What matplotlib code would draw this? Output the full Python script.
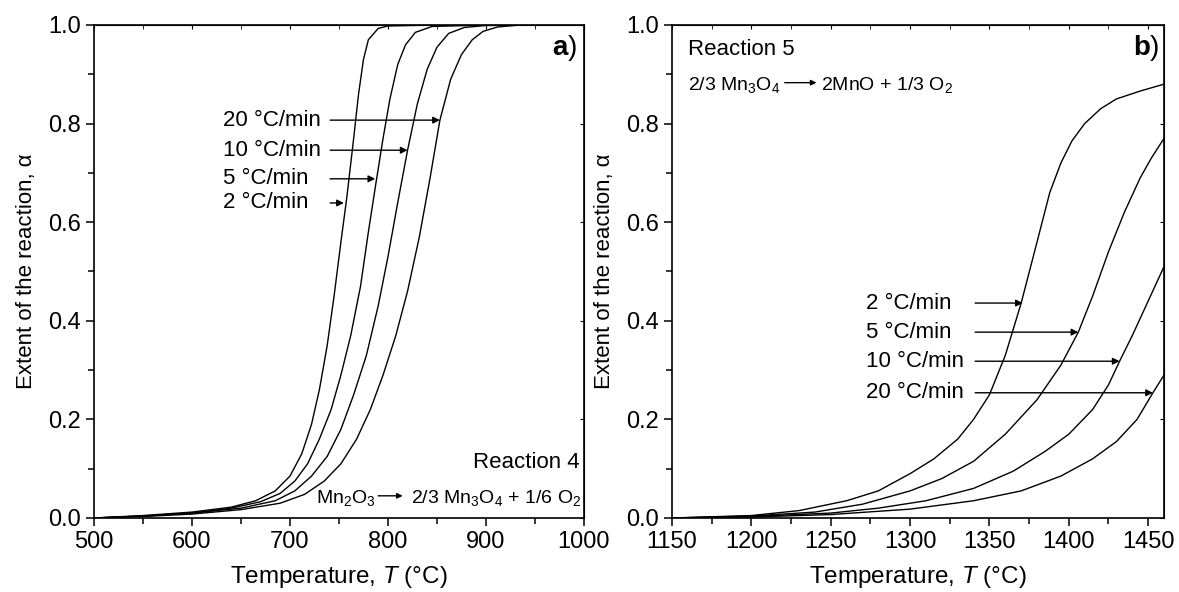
import matplotlib
matplotlib.use("Agg")
import matplotlib.pyplot as plt
from matplotlib.ticker import MultipleLocator

plt.rcParams["font.family"] = ["Liberation Sans", "DejaVu Sans"]
plt.rcParams["mathtext.fontset"] = "custom"
plt.rcParams["mathtext.rm"] = "Liberation Sans"
plt.rcParams["mathtext.it"] = "Liberation Sans:italic"
plt.rcParams["mathtext.bf"] = "Liberation Sans:bold"

# Reaction 4 (panel a): temperature (°C) and extent of reaction
rates = ["2 °C/min", "5 °C/min", "10 °C/min", "20 °C/min"]

T4_2 = [500, 550, 600, 640, 665, 685, 700, 712, 722, 730, 738, 745, 752, 758, 765, 770, 775, 780, 790, 800, 850, 1000]
a4_2 = [0, 0.005, 0.012, 0.022, 0.035, 0.055, 0.085, 0.13, 0.19, 0.26, 0.35, 0.45, 0.56, 0.65, 0.77, 0.86, 0.93, 0.97, 0.993, 0.998, 1.0, 1.0]
T4_5 = [500, 550, 600, 640, 670, 690, 705, 718, 730, 742, 752, 762, 772, 780, 787, 795, 802, 810, 818, 828, 845, 900, 1000]
a4_5 = [0, 0.004, 0.01, 0.02, 0.033, 0.05, 0.075, 0.11, 0.16, 0.22, 0.29, 0.37, 0.47, 0.58, 0.67, 0.77, 0.85, 0.92, 0.96, 0.985, 0.997, 1.0, 1.0]
T4_10 = [500, 550, 600, 650, 685, 705, 722, 738, 752, 765, 778, 790, 800, 810, 820, 830, 840, 850, 862, 878, 900, 1000]
a4_10 = [0, 0.004, 0.01, 0.02, 0.035, 0.055, 0.085, 0.125, 0.18, 0.25, 0.33, 0.43, 0.53, 0.64, 0.746, 0.84, 0.91, 0.955, 0.983, 0.995, 0.999, 1.0]
T4_20 = [500, 550, 600, 650, 690, 715, 735, 752, 768, 782, 795, 808, 820, 832, 843, 853, 864, 875, 886, 897, 912, 935, 1000]
a4_20 = [0, 0.003, 0.008, 0.017, 0.03, 0.048, 0.075, 0.11, 0.16, 0.22, 0.29, 0.37, 0.46, 0.57, 0.69, 0.807, 0.89, 0.94, 0.97, 0.987, 0.996, 1.0, 1.0]

# Reaction 5 (panel b)
T5_2 = [1150, 1200, 1230, 1260, 1280, 1300, 1315, 1330, 1340, 1350, 1360, 1370, 1380, 1388, 1395, 1402, 1410, 1420, 1430, 1445, 1460]
a5_2 = [0, 0.005, 0.015, 0.035, 0.055, 0.09, 0.12, 0.16, 0.2, 0.25, 0.33, 0.436, 0.56, 0.66, 0.72, 0.765, 0.8, 0.83, 0.85, 0.866, 0.88]
T5_5 = [1150, 1200, 1240, 1270, 1300, 1320, 1340, 1360, 1380, 1395, 1406, 1415, 1425, 1435, 1445, 1452, 1460]
a5_5 = [0, 0.004, 0.012, 0.028, 0.055, 0.08, 0.115, 0.17, 0.24, 0.31, 0.377, 0.45, 0.54, 0.62, 0.69, 0.73, 0.77]
T5_10 = [1150, 1200, 1250, 1280, 1310, 1340, 1365, 1385, 1400, 1415, 1425, 1432, 1440, 1450, 1460]
a5_10 = [0, 0.003, 0.01, 0.02, 0.035, 0.06, 0.095, 0.135, 0.17, 0.22, 0.27, 0.318, 0.37, 0.44, 0.51]
T5_20 = [1150, 1200, 1250, 1300, 1340, 1370, 1395, 1415, 1430, 1443, 1453, 1460]
a5_20 = [0, 0.002, 0.007, 0.018, 0.035, 0.055, 0.085, 0.12, 0.155, 0.2, 0.254, 0.29]

# arrow targets (temperature, alpha) for the labels
arr4 = [(755, 0.639), (787, 0.688), (820, 0.746), (853, 0.807)]
arr5 = [(1371, 0.436), (1406, 0.377), (1432, 0.318), (1453, 0.254)]

fig = plt.figure(figsize=(11.79, 5.92), dpi=100)
ax1 = fig.add_axes([0.0797, 0.125, 0.4156, 0.8328])
ax2 = fig.add_axes([0.570, 0.125, 0.4173, 0.8328])

for T, a in [(T4_2, a4_2), (T4_5, a4_5), (T4_10, a4_10), (T4_20, a4_20)]:
    ax1.plot(T, a, color="black", lw=1.0)
for T, a in [(T5_2, a5_2), (T5_5, a5_5), (T5_10, a5_10), (T5_20, a5_20)]:
    ax2.plot(T, a, color="black", lw=1.0)

ax1.set_xlim(500, 1000)
ax2.set_xlim(1150, 1460)
ax1.xaxis.set_major_locator(MultipleLocator(100))
ax1.xaxis.set_minor_locator(MultipleLocator(50))
ax2.xaxis.set_major_locator(MultipleLocator(50))
ax2.xaxis.set_minor_locator(MultipleLocator(25))

for ax in (ax1, ax2):
    ax.set_ylim(0, 1.0)
    ax.yaxis.set_major_locator(MultipleLocator(0.2))
    ax.yaxis.set_minor_locator(MultipleLocator(0.1))
    ax.yaxis.set_major_formatter(plt.FormatStrFormatter("%.1f"))
    ax.tick_params(which="both", direction="out", labelsize=17, width=1.1)
    ax.tick_params(which="major", length=6)
    ax.tick_params(which="minor", length=4)
    for s in ax.spines.values():
        s.set_linewidth(1.2)
    ax.set_xlabel("Temperature, $\\mathit{T}$ (°C)", fontsize=17.5, labelpad=8)
    ax.set_ylabel("Extent of the reaction, α", fontsize=16, labelpad=8)
    # mirrored inward ticks on top and right
    sec_x = ax.secondary_xaxis("top")
    sec_x.set_xticks(ax.get_xticks(minor=True), minor=True)
    sec_x.tick_params(which="both", direction="in", length=3, labeltop=False)
    sec_y = ax.secondary_yaxis("right")
    sec_y.tick_params(which="both", direction="in", length=3, labelright=False)

for (T, a), lab in zip(arr4, rates):
    ax1.annotate("", xy=(T, a), xytext=(741, a),
                 arrowprops=dict(arrowstyle="-|>", lw=1.0, color="black", mutation_scale=10,
                                 shrinkA=0, shrinkB=0))
    ax1.text(632, a, lab, fontsize=16, va="center", ha="left")

for (T, a), lab in zip(arr5, rates):
    ax2.annotate("", xy=(T, a), xytext=(1341, a),
                 arrowprops=dict(arrowstyle="-|>", lw=1.0, color="black", mutation_scale=10,
                                 shrinkA=0, shrinkB=0))
    ax2.text(1272, a, lab, fontsize=16, va="center", ha="left")

# reaction labels
ax1.text(996, 0.101, "Reaction 4", fontsize=16, ha="right", va="baseline")
ax1.text(787, 0.030, "Mn$_2$O$_3$", fontsize=14, ha="right", va="baseline")
ax1.annotate("", xy=(815, 0.045), xytext=(790, 0.045),
             arrowprops=dict(arrowstyle="-|>", lw=1.0, color="black", mutation_scale=8,
                             shrinkA=0, shrinkB=0))
ax1.text(823, 0.030, "2/3 Mn$_3$O$_4$ + 1/6 O$_2$", fontsize=14, ha="left", va="baseline")

ax2.text(1160, 0.94, "Reaction 5", fontsize=16, ha="left", va="baseline")
ax2.text(1218, 0.868, "2/3 Mn$_3$O$_4$", fontsize=14, ha="right", va="baseline")
ax2.annotate("", xy=(1241, 0.883), xytext=(1221, 0.883),
             arrowprops=dict(arrowstyle="-|>", lw=1.0, color="black", mutation_scale=8,
                             shrinkA=0, shrinkB=0))
ax2.text(1244, 0.868, "2MnO + 1/3 O$_2$", fontsize=14, ha="left", va="baseline")

ax1.text(993, 0.94, "$\\mathbf{a}$)", fontsize=20, ha="right", va="baseline")
ax2.text(1457, 0.94, "$\\mathbf{b}$)", fontsize=20, ha="right", va="baseline")

fig.savefig("out.png", dpi=100)
